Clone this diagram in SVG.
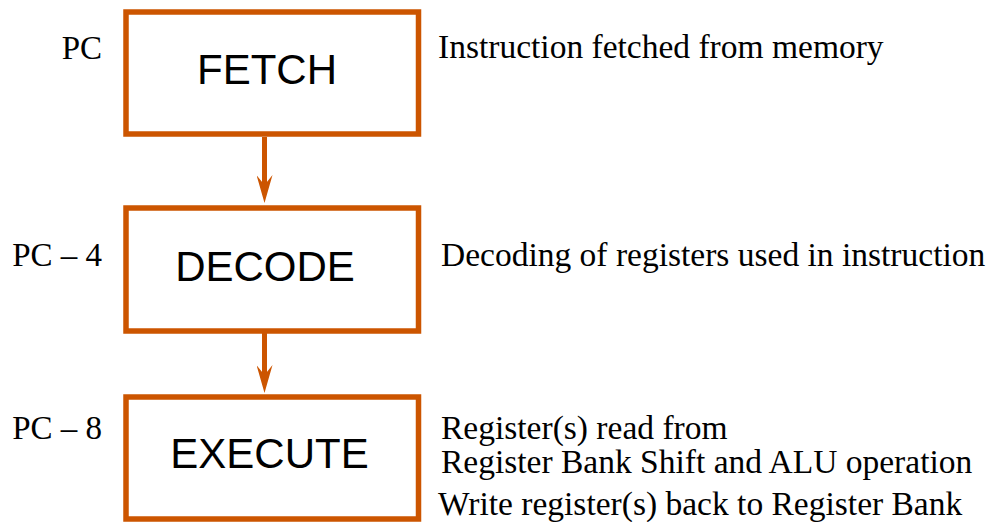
<svg xmlns="http://www.w3.org/2000/svg" width="990" height="522" viewBox="0 0 990 522">
<style>
.box{fill:#fff;stroke:#cc5500;stroke-width:5.5}
.lbl{font-family:"Liberation Sans",Arial,sans-serif;font-size:42px;fill:#000;text-anchor:middle}
.pc{font-family:"Liberation Serif","Times New Roman",serif;font-size:33px;fill:#000;text-anchor:end}
.desc{font-family:"Liberation Serif","Times New Roman",serif;font-size:33.5px;fill:#000}
.conn{stroke:#cc5500;stroke-width:5;fill:none}
</style>
<defs>
<marker id="ah" viewBox="0 0 28 16" refX="15" refY="8" markerWidth="28" markerHeight="16" markerUnits="userSpaceOnUse" orient="auto">
<path d="M0,0 L28,8 L0,16 L10,8 z" fill="#cc5500"/>
</marker>
</defs>
<rect width="990" height="522" fill="#fff"/>
<g id="connectors">
<line class="conn" x1="264.5" y1="137" x2="264.5" y2="190" marker-end="url(#ah)"/>
<line class="conn" x1="264.5" y1="333" x2="264.5" y2="380" marker-end="url(#ah)"/>
</g>
<g id="fetch">
<rect class="box" x="126" y="12" width="292.5" height="122"/>
<text class="lbl" x="267" y="84">FETCH</text>
</g>
<g id="decode">
<rect class="box" x="126" y="208" width="292.5" height="123"/>
<text class="lbl" x="265" y="281">DECODE</text>
</g>
<g id="execute">
<rect class="box" x="126" y="397" width="292.5" height="122"/>
<text class="lbl" x="269.5" y="468">EXECUTE</text>
</g>
<g id="labels">
<text class="pc" x="102" y="59">PC</text>
<text class="pc" x="102" y="266">PC – 4</text>
<text class="pc" x="102" y="439">PC – 8</text>
<text class="desc" x="438" y="58">Instruction fetched from memory</text>
<text class="desc" x="441" y="266">Decoding of registers used in instruction</text>
<text class="desc" x="441" y="439">Register(s) read from</text>
<text class="desc" x="441" y="473">Register Bank Shift and ALU operation</text>
<text class="desc" x="438" y="515">Write register(s) back to Register Bank</text>
</g>
</svg>
